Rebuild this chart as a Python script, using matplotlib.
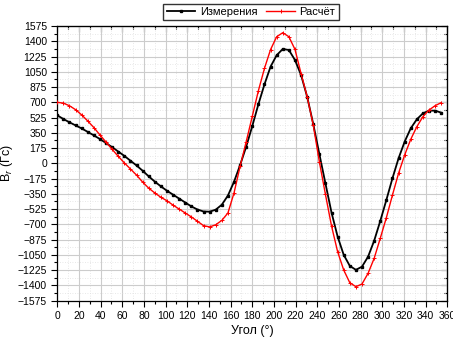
import numpy as np
import matplotlib
matplotlib.use('Agg')
import matplotlib.pyplot as plt
from matplotlib.ticker import MultipleLocator

plt.rcParams['font.family'] = ['Liberation Sans', 'DejaVu Sans']
plt.rcParams['mathtext.fontset'] = 'custom'
plt.rcParams['mathtext.rm'] = 'Liberation Sans'
plt.rcParams['mathtext.it'] = 'Liberation Sans:italic'

# angles, step 5.625 deg (64 points)
angle = np.arange(64) * 5.625

# measured B_r (Gs)
measured = [550, 508, 470, 435, 400, 360, 320, 278,
            232, 185, 135, 85, 30, -25, -85, -150,
            -210, -265, -315, -360, -405, -450, -495, -530,
            -553, -555, -532, -475, -370, -212, -20, 191,
            428, 677, 906, 1109, 1240, 1311, 1300, 1185,
            1013, 764, 451, 108, -230, -565, -840, -1050,
            -1177, -1222, -1186, -1071, -888, -662, -421, -172,
            57, 248, 401, 505, 573, 604, 604, 581]

# calculated B_r (Gs)
calculated = [700, 690, 660, 615, 555, 485, 410, 325,
              243, 160, 80, 5, -65, -135, -215, -285,
              -340, -390, -430, -480, -525, -570, -615, -665,
              -715, -730, -705, -655, -570, -340, -35, 248,
              540, 833, 1090, 1305, 1452, 1498, 1452, 1307,
              1030, 765, 440, 19, -356, -719, -1014, -1224,
              -1370, -1415, -1385, -1262, -1090, -860, -624, -364,
              -115, 95, 275, 420, 535, 611, 661, 696]

fig = plt.figure(figsize=(4.53, 3.44), dpi=100)
ax = fig.add_axes([57.3 / 453, 1 - 300.6 / 344, 390 / 453, 274.6 / 344])

ax.plot(angle, measured, '-s', color='black', lw=1.3, ms=2.0, label='Измерения', zorder=3)
ax.plot(angle, calculated, '-+', color='red', lw=1.0, ms=2.6, mew=0.7, label='Расчёт', zorder=3)

ax.set_xlim(0, 360)
ax.set_ylim(-1575, 1575)
ax.xaxis.set_major_locator(MultipleLocator(20))
ax.xaxis.set_minor_locator(MultipleLocator(10))
ax.yaxis.set_major_locator(MultipleLocator(175))
ax.yaxis.set_minor_locator(MultipleLocator(87.5))

ax.grid(which='major', color='#cccccc', lw=0.8)
ax.grid(which='minor', color='#e0e0e0', lw=0.6, ls=(0, (1, 2)))
ax.set_axisbelow(True)

ax.tick_params(which='both', direction='out', labelsize=7.5, width=0.8)
ax.tick_params(which='major', length=4)
ax.tick_params(which='minor', length=2)
for s in ax.spines.values():
    s.set_linewidth(0.9)

top = ax.secondary_xaxis('top')
top.xaxis.set_major_locator(MultipleLocator(20))
top.xaxis.set_minor_locator(MultipleLocator(10))
top.tick_params(which='both', direction='in', labeltop=False, width=0.8)
top.tick_params(which='major', length=4)
top.tick_params(which='minor', length=2)

right = ax.secondary_yaxis('right')
right.yaxis.set_major_locator(MultipleLocator(175))
right.yaxis.set_minor_locator(MultipleLocator(87.5))
right.tick_params(which='both', direction='in', labelright=False, width=0.8)
right.tick_params(which='major', length=4)
right.tick_params(which='minor', length=2)

ax.set_xlabel('Угол (°)', fontsize=9, labelpad=3)
ax.set_ylabel('B$_r$ (Гс)', fontsize=9, labelpad=2)

fig.legend(loc='center', bbox_to_anchor=(251 / 453, 1 - 12 / 344), ncol=2,
           fontsize=8, frameon=True, fancybox=False, edgecolor='#333333',
           handlelength=2.6, columnspacing=0.8, handletextpad=0.4,
           borderpad=0.3, framealpha=1)

fig.savefig('out.png', dpi=100)
